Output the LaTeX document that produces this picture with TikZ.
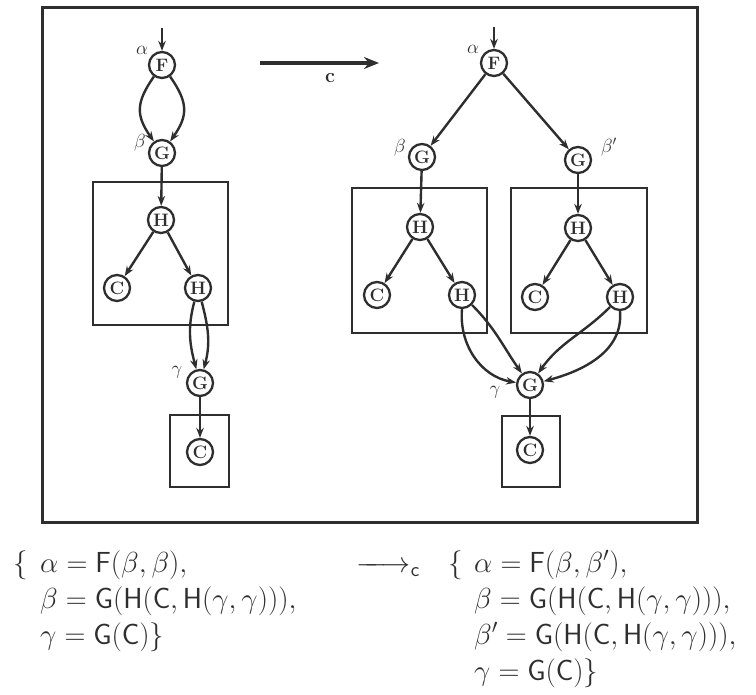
\RequirePackage{fix-cm}
\documentclass[tikz,border=0pt]{standalone}
\usepackage{xcolor}
\usepackage{tikz}
\usetikzlibrary{arrows.meta, positioning}
\definecolor{termink}{HTML}{2E2E2E}

\tikzset{
  term/.style={circle, draw=termink, line width=2.3pt, minimum size=26pt, inner sep=0pt, text=termink, font=\fontsize{18}{20}\selectfont\bfseries},
  edge/.style={draw=termink, line width=2.4pt, -{Stealth[length=10pt, width=7.5pt]}},
  boxline/.style={draw=termink, line width=2.6pt},
  glabel/.style={text=termink, inner sep=0pt, font=\fontsize{19}{21}\selectfont},
  eqline/.style={anchor=base west, inner sep=0pt, text=termink, font=\fontsize{29}{35}\selectfont}
}

\begin{document}
\begin{tikzpicture}[x=1pt, y=1pt]
    \useasboundingbox (0,0) rectangle (756,-695);
    % Frame round both graphs
    \draw[boxline, line width=3pt] (42,-8) rectangle (697,-522);

    % Left graph
    \coordinate (lin) at (162,-28);
    \node[term] (lf) at (162,-65) {F};
    \node[term] (lg1) at (162,-153) {G};
    \node[term] (lh1) at (161,-220) {H};
    \node[term] (lc1) at (117,-288) {C};
    \node[term] (lh2) at (198,-288) {H};
    \node[term] (lg2) at (200,-383) {G};
    \node[term] (lc2) at (200,-452) {C};
    \node[glabel] (lalpha) at (142,-50) {$\alpha$};
    \node[glabel] (lbeta) at (140,-143) {$\beta$};
    \node[glabel] (lgamma) at (177,-372) {$\gamma$};
    \draw[boxline] (93,-182) rectangle (228,-325);
    \draw[boxline] (170,-415) rectangle (229,-487);

    \draw[edge] (lin) -- (lf);
    \draw[edge] (lf) to[out=-125, in=125, looseness=1.25] (lg1);
    \draw[edge] (lf) to[out=-55, in=55, looseness=1.25] (lg1);
    \draw[edge] (lg1) -- (lh1);
    \draw[edge] (lh1) -- (lc1);
    \draw[edge] (lh1) -- (lh2);
    \draw[edge] (lh2) to[out=-105, in=105] (lg2);
    \draw[edge] (lh2) to[out=-75, in=75] (lg2);
    \draw[edge] (lg2) -- (lc2);

    % Rewrite arrow
    \coordinate (cfrom) at (260,-63);
    \coordinate (cto) at (379,-63);
    \draw[draw=termink, line width=4pt, -{Stealth[length=15pt, width=12pt]}] (cfrom) -- (cto);
    \node[glabel, font=\fontsize{20}{22}\selectfont\bfseries] (clabel) at (330,-78) {c};

    % Right graph
    \coordinate (rin) at (494,-27);
    \node[term] (rf) at (494,-63) {F};
    \node[term] (rg1) at (422,-157) {G};
    \node[term] (rg1p) at (578,-160) {G};
    \node[term] (rh1) at (420,-227) {H};
    \node[term] (rc1) at (377,-295) {C};
    \node[term] (rh2) at (462,-295) {H};
    \node[term] (rh1p) at (578,-228) {H};
    \node[term] (rc1p) at (535,-297) {C};
    \node[term] (rh2p) at (620,-297) {H};
    \node[term] (rg2) at (530,-385) {G};
    \node[term] (rc2) at (530,-450) {C};
    \node[glabel] (ralpha) at (473,-49) {$\alpha$};
    \node[glabel] (rbeta) at (400,-148) {$\beta$};
    \node[glabel] (rbetap) at (609,-147) {$\beta'$};
    \node[glabel] (rgamma) at (495,-392) {$\gamma$};
    \draw[boxline] (352,-188) rectangle (487,-333);
    \draw[boxline] (511,-188) rectangle (647,-333);
    \draw[boxline] (502,-416) rectangle (560,-487);

    \draw[edge] (rin) -- (rf);
    \draw[edge] (rf) -- (rg1);
    \draw[edge] (rf) -- (rg1p);
    \draw[edge] (rg1) -- (rh1);
    \draw[edge] (rh1) -- (rc1);
    \draw[edge] (rh1) -- (rh2);
    \draw[edge] (rg1p) -- (rh1p);
    \draw[edge] (rh1p) -- (rc1p);
    \draw[edge] (rh1p) -- (rh2p);
    \draw[edge] (rh2.south) to[out=-95, in=170] (rg2);
    \draw[edge] (rh2.south east) to[out=-45, in=125] (rg2);
    \draw[edge] (rh2p.south west) to[out=-135, in=55] (rg2);
    \draw[edge] (rh2p.south) to[out=-85, in=15] (rg2);
    \draw[edge] (rg2) -- (rc2);

    % Term equations
    \node[eqline] (lbrace) at (13,-572) {$\{$};
    \node[eqline] (leq1) at (40,-572) {$\alpha = \mathsf{F}(\beta, \beta),$};
    \node[eqline] (leq2) at (40,-608) {$\beta = \mathsf{G}(\mathsf{H}(\mathsf{C}, \mathsf{H}(\gamma, \gamma))),$};
    \node[eqline] (leq3) at (40,-644) {$\gamma = \mathsf{G}(\mathsf{C})\}$};
    \node[eqline] (rewr) at (356,-572) {$\relbar\mkern-9mu\longrightarrow_{\mathsf{c}}$};
    \node[eqline] (rbrace) at (448,-572) {$\{$};
    \node[eqline] (req1) at (474,-572) {$\alpha = \mathsf{F}(\beta, \beta'),$};
    \node[eqline] (req2) at (474,-608) {$\beta = \mathsf{G}(\mathsf{H}(\mathsf{C}, \mathsf{H}(\gamma, \gamma))),$};
    \node[eqline] (req3) at (474,-644) {$\beta' = \mathsf{G}(\mathsf{H}(\mathsf{C}, \mathsf{H}(\gamma, \gamma))),$};
    \node[eqline] (req4) at (474,-680) {$\gamma = \mathsf{G}(\mathsf{C})\}$};
\end{tikzpicture}
\end{document}
